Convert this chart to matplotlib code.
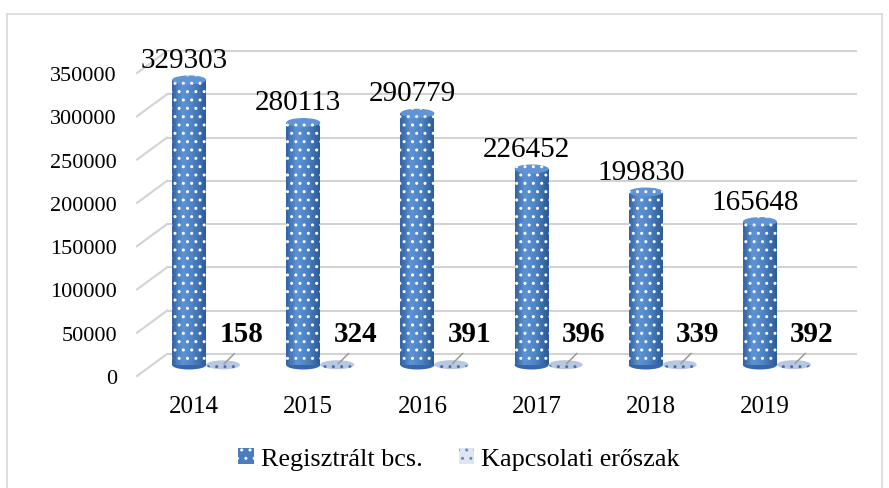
import matplotlib
matplotlib.use('Agg')
import matplotlib.pyplot as plt
from matplotlib.patches import Ellipse, Patch
from matplotlib.lines import Line2D
from matplotlib.transforms import ScaledTranslation
from matplotlib.colors import LinearSegmentedColormap

# data
years = ['2014', '2015', '2016', '2017', '2018', '2019']
registered = [329303, 280113, 290779, 226452, 199830, 165648]
relationship = [158, 324, 391, 396, 339, 392]
yticks = [0, 50000, 100000, 150000, 200000, 250000, 300000, 350000]
series_names = ['Regisztrált bcs.', 'Kapcsolati erőszak']

plt.rcParams['font.family'] = ['Liberation Serif', 'DejaVu Serif']

W, H = 889, 489
fig = plt.figure(figsize=(W / 100, H / 100), dpi=100)
ax_l, ax_b, ax_w, ax_h = 137, 377, 685, 303      # pixel frame of the front plane
ax = fig.add_axes([ax_l / W, 1 - ax_b / H, ax_w / W, ax_h / H])
ymax = 350000
ax.set_xlim(-0.5, len(years) - 0.5)
ax.set_ylim(0, ymax)
for s in ax.spines.values():
    s.set_visible(False)

px_x = len(years) / ax_w      # data units per pixel
px_y = ymax / ax_h

# depth offsets (pixels)
back_dx, back_dy = 30, 22
bar_shift = ax.transData + ScaledTranslation(0.12, 0.11, fig.dpi_scale_trans)

# back-wall gridlines with diagonal stubs
grid_col = '#d3d3d3'
for v in yticks:
    fy = v / ymax
    ax.plot([back_dx / ax_w, (856 - ax_l) / ax_w], [fy + back_dy / ax_h] * 2,
            transform=ax.transAxes, color=grid_col, lw=1.5, clip_on=False, zorder=0)
    ax.plot([0, back_dx / ax_w], [fy, fy + back_dy / ax_h],
            transform=ax.transAxes, color=grid_col, lw=1.5, clip_on=False, zorder=0)

bw = 34 * px_x
off = 17 * px_x
ell_h = 9 * px_y
shade = LinearSegmentedColormap.from_list(
    'cyl', [(0, '#30609e'), (0.3, '#5d93d5'), (0.6, '#4e84c6'), (1, '#2d5a96')])
nstrip = 16

for i, v in enumerate(registered):
    xc = i - off
    # bottom cap
    e = Ellipse((xc, 0), bw, ell_h, facecolor='#3767a8', lw=0, zorder=2)
    e.set_transform(bar_shift)
    ax.add_patch(e)
    # shaded body
    sw = bw / nstrip
    for k in range(nstrip):
        b = ax.bar(xc - bw / 2 + sw * (k + 0.5), v, width=sw * 1.05,
                   color=shade((k + 0.5) / nstrip), lw=0, zorder=3)
        b[0].set_transform(bar_shift)
    h = ax.bar(xc, v, width=bw, facecolor='none', edgecolor='white',
               hatch='..', lw=0, zorder=4)
    h[0].set_transform(bar_shift)
    # top cap
    t = Ellipse((xc, v), bw, ell_h, facecolor='#6094d4', edgecolor='white',
                hatch='..', lw=0, zorder=5)
    t.set_transform(bar_shift)
    ax.add_patch(t)
    ax.annotate(str(v), xy=(xc, v), xycoords=bar_shift, xytext=(-3.6, 9.4),
                textcoords='offset points', ha='center', va='baseline',
                fontsize=21, zorder=6)

for i, v in enumerate(relationship):
    xc = i + off
    d = Ellipse((xc, v), bw, ell_h, facecolor='#b9c7df', edgecolor='#3f72b8',
                hatch='..', lw=0, zorder=5)
    d.set_transform(bar_shift)
    ax.add_patch(d)
    ax.annotate(str(v), xy=(xc, v), xycoords=bar_shift, xytext=(13, 17.3),
                textcoords='offset points', ha='center', va='baseline',
                fontsize=21, fontweight='bold', zorder=6,
                arrowprops=dict(arrowstyle='-', color='#9a9a9a', lw=1.1,
                                relpos=(0.5, 0), shrinkA=4, shrinkB=1))

ax.set_yticks(yticks)
ax.set_yticklabels([str(v) for v in yticks])
ax.set_xticks(range(len(years)))
ax.set_xticklabels(years)
ax.tick_params(axis='y', length=0, pad=14.4, labelsize=16)
ax.tick_params(axis='x', length=0, pad=14, labelsize=18)

# outer chart border
bcol = '#d9d9d9'
fig.add_artist(Line2D([7 / W, 7 / W], [0, 1 - 15 / H], color=bcol, lw=1.2))
fig.add_artist(Line2D([7 / W, 882 / W], [1 - 15 / H] * 2, color=bcol, lw=1.2))
fig.add_artist(Line2D([882 / W, 882 / W], [0, 1 - 15 / H], color=bcol, lw=1.2))

handles = [Patch(facecolor='#4a7cc0', edgecolor='white', hatch='..', lw=0),
           Patch(facecolor='#dfe6f2', edgecolor='#5b8fd0', hatch='..', lw=0)]
fig.legend(handles, series_names, loc='center', bbox_to_anchor=(459 / W, 1 - 460 / H),
           ncol=2, frameon=False, fontsize=18.8, handlelength=0.58, handleheight=0.58,
           handletextpad=0.27, columnspacing=1.4)

fig.savefig('out.png', dpi=100)
